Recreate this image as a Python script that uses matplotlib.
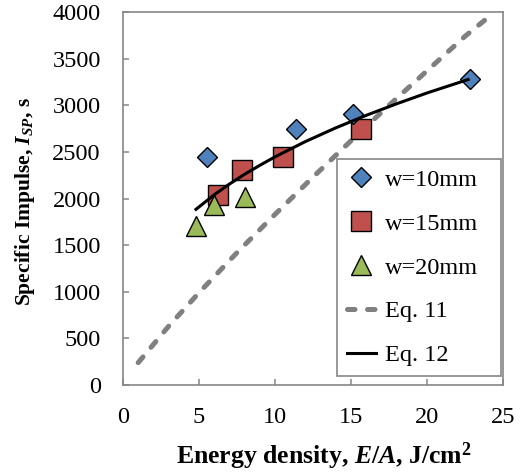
"""Specific impulse vs energy density, with Eq. 11 and Eq. 12 curves."""
import matplotlib

matplotlib.use("Agg")
import matplotlib.pyplot as plt

# measured points
w10_x = [5.55, 11.4, 15.15, 22.8]
w10_y = [2440, 2750, 2910, 3280]
w15_x = [6.27, 7.85, 10.5, 15.65]
w15_y = [2040, 2310, 2450, 2750]
w20_x = [4.8, 6.0, 8.0]
w20_y = [1710, 1930, 2020]

# Eq. 11 (grey dashed)
eq11_x = [1.0, 3.0, 5.0, 7.5, 10.0, 12.5, 15.0, 17.5, 20.0, 22.5, 24.3]
eq11_y = [240, 630, 990, 1420, 1830, 2230, 2620, 3000, 3370, 3740, 3980]

# Eq. 12 (black solid)
eq12_x = [4.8, 6.0, 7.0, 8.0, 9.0, 10.0, 12.0, 14.0, 16.0, 18.0, 20.0, 22.7]
eq12_y = [1884, 2040, 2155, 2260, 2356, 2447, 2611, 2758, 2892, 3016, 3132, 3276]

xticks = [0, 5, 10, 15, 20, 25]
yticks = [0, 500, 1000, 1500, 2000, 2500, 3000, 3500, 4000]

plt.rcParams["font.family"] = "Liberation Serif"
plt.rcParams["mathtext.fontset"] = "custom"
plt.rcParams["mathtext.rm"] = "Liberation Serif:bold"
plt.rcParams["mathtext.it"] = "Liberation Serif:italic:bold"
plt.rcParams["mathtext.bf"] = "Liberation Serif:bold"

GREY = "#868686"

fig = plt.figure(figsize=(5.29, 4.73), dpi=100)
ax = fig.add_axes([0.2325, 0.186, 0.7185, 0.7886])

ax.plot(w10_x, w10_y, "D", ms=10, mfc="#4F81BD", mec="black", mew=1.0,
        label="w=10mm", zorder=4)
ax.plot(w15_x, w15_y, "s", ms=14, mfc="#C0504D", mec="black", mew=1.0,
        label="w=15mm", zorder=3)
ax.plot(w20_x, w20_y, "^", ms=14, mfc="#9BBB59", mec="black", mew=1.0,
        label="w=20mm", zorder=4)
ax.plot(eq11_x, eq11_y, color="#808080", lw=3.6, dashes=(1.5, 2.5),
        dash_capstyle="round", label="Eq. 11", zorder=2)
ax.plot(eq12_x, eq12_y, color="black", lw=2.2, label="Eq. 12", zorder=5)

ax.set_xlim(0, 25)
ax.set_ylim(0, 4000)
ax.set_xticks(xticks)
ax.set_yticks(yticks)
ax.tick_params(direction="in", length=4.5, width=1.1, color=GREY,
               labelsize=17.5, pad=16)
for sp in ax.spines.values():
    sp.set_color(GREY)
    sp.set_linewidth(1.2)

ax.set_xlabel(r"Energy density, $E/A$, J/cm$^2$", fontsize=18.5, fontweight="bold")
ax.set_ylabel(r"Specific Impulse, $I_{SP}$, s", fontsize=15.5, fontweight="bold")
ax.xaxis.set_label_coords(0.529, -0.148)
ax.yaxis.set_label_coords(-0.226, 0.493)

leg = ax.legend(loc="center", bbox_to_anchor=(0.563, 0.024, 0.431, 0.582),
                mode="expand", fontsize=17.5, fancybox=False, framealpha=1,
                edgecolor=GREY, borderaxespad=0, labelspacing=0.9,
                handlelength=1.2, handletextpad=0.38, borderpad=0.4)
leg.get_frame().set_linewidth(1.2)

fig.savefig("out.png", dpi=100)
